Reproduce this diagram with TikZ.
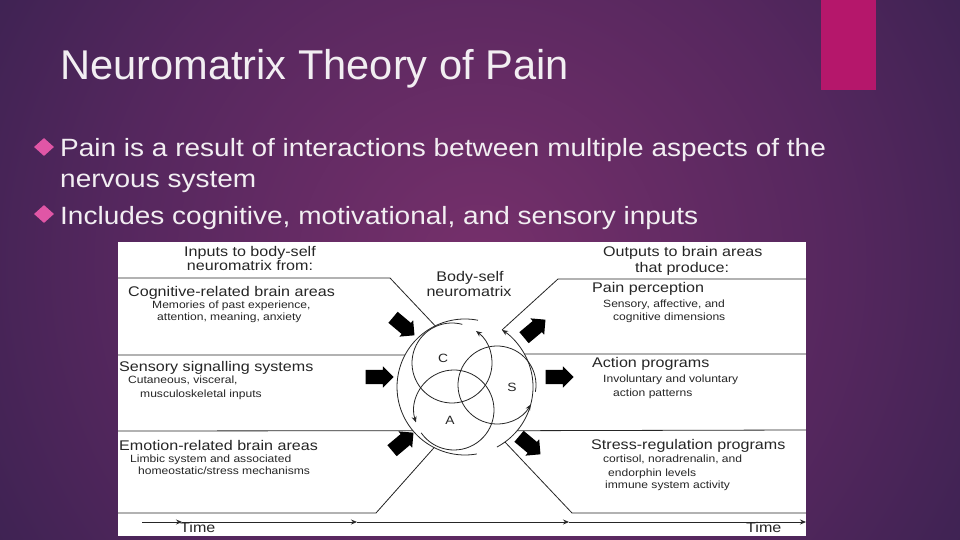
\documentclass[tikz,border=0pt]{standalone}
\usepackage{fontspec}
\setmainfont{Liberation Sans}
\newfontfamily\slidefont{Liberation Sans}[FakeStretch=1.12]
\newfontfamily\figfont{Liberation Sans}[FakeStretch=1.15]
\usepackage{tikz}
\usetikzlibrary{arrows.meta,positioning,shapes.geometric,shapes.arrows}
\definecolor{bgin}{HTML}{76306B}
\definecolor{bgmid}{HTML}{55275E}
\definecolor{bgout}{HTML}{221D45}
\definecolor{barpink}{HTML}{B5176B}
\definecolor{dotpink}{HTML}{E056A6}
\definecolor{paleink}{HTML}{F2EEF2}
\definecolor{figink}{HTML}{262626}
\pgfdeclareradialshading{slideglow}{\pgfpoint{0bp}{0bp}}{color(0bp)=(bgin); color(14bp)=(bgmid); color(31bp)=(bgout); color(50bp)=(bgout)}

\begin{document}
\begin{tikzpicture}[x=1pt,y=1pt,
  hd/.style={font=\figfont\fontsize{14}{16}\selectfont,text=figink,inner sep=0pt,anchor=base west},
  subtxt/.style={font=\figfont\fontsize{10.5}{12}\selectfont,text=figink,inner sep=0pt,anchor=base west},
  bul/.style={font=\slidefont\fontsize{25}{30}\selectfont,text=paleink,inner sep=0pt,anchor=base west},
  bdot/.style={diamond,fill=dotpink,inner sep=0pt,minimum width=20pt,minimum height=18pt},
  ln/.style={draw=figink,line width=0.8pt},
  arr/.style={ln,-{Stealth[length=6pt,width=5pt]}},
  blk/.style={single arrow,fill=black,inner sep=7pt,minimum height=28pt,single arrow head extend=3.5pt},
  cir/.style={font=\figfont\fontsize{12}{14}\selectfont,text=figink,inner sep=0pt}
]
\useasboundingbox (0,0) rectangle (960,540);
% slide background
\begin{scope}
  \clip (0,0) rectangle (960,540);
  \shade[shading=slideglow] (480,275) circle (650);
\end{scope}
\fill[barpink] (821,450) rectangle (876,540);

% title and bullets
\node[font=\fontsize{41.6}{50}\selectfont,text=paleink,inner sep=0pt,anchor=base west] (title) at (60,460) {Neuromatrix Theory of Pain};
\node[bdot] (b1) at (44,393) {};
\node[bul] (p1) at (60,383) {Pain is a result of interactions between multiple aspects of the};
\node[bul] (p1b) at (60,352) {nervous system};
\node[bdot] (b2) at (44,326) {};
\node[bul] (p2) at (60,315) {Includes cognitive, motivational, and sensory inputs};

% figure panel
\fill[white] (118,3.5) rectangle (806,298);
\node[circle,minimum size=136pt,inner sep=0pt,outer sep=0pt] (nm) at (465,153) {};
\coordinate (cc) at (452,177);
\coordinate (ca) at (454,130);
\coordinate (cs) at (497,155);

% band lines
\coordinate (l1) at (118,262); \coordinate (l1k) at (390,262);
\coordinate (r1) at (806,261); \coordinate (r1k) at (558,261);
\coordinate (l2) at (118,185); \coordinate (r2) at (806,186);
\coordinate (l3) at (118,109); \coordinate (r3) at (806,110);
\coordinate (l4) at (118,27);  \coordinate (l4k) at (376,27);
\coordinate (r4) at (806,27);  \coordinate (r4k) at (572,27);
\draw[ln] (l1) -- (l1k) -- (nm.116);
\draw[ln] (r1) -- (r1k) -- (nm.57);
\draw[ln] (l2) -- (nm.152);
\draw[ln] (nm.29) -- (r2);
\draw[ln] (l3) -- (nm.220);
\draw[ln] (nm.-40) -- (r3);
\draw[ln] (l4) -- (l4k) -- (nm.243);
\draw[ln] (r4) -- (r4k) -- (nm.-54);

% neuromatrix loops
\draw[ln] (nm.79) arc[start angle=79,end angle=280,radius=68];
\draw[arr] (nm.-62) arc[start angle=-62,end angle=57,radius=68];
\draw[arr] ([shift={(75:40)}]cc) arc[start angle=75,end angle=413,radius=40];
\draw[arr] ([shift={(-145:40)}]ca) arc[start angle=-145,end angle=198,radius=40];
\draw[arr] ([shift={(-10:39)}]cs) arc[start angle=-10,end angle=330,radius=39];
\node[cir] (lc) at (443,182) {C};
\node[cir] (ls) at (512,153) {S};
\node[cir] (la) at (450,120) {A};

% block arrows in and out
\node[blk,rotate=-40] (inTL) at (401,216) {};
\node[blk] (inML) at (376,163) {};
\node[blk,rotate=40] (inBL) at (400,96) {};
\node[blk,rotate=40] (outTR) at (532,209) {};
\node[blk] (outMR) at (556,163) {};
\node[blk,rotate=-40] (outBR) at (527,97) {};

% time axis
\coordinate (t0) at (142,18);
\coordinate (t1) at (182,18);
\coordinate (t2) at (357,18);
\coordinate (t3) at (569,18);
\coordinate (t4) at (806,18);
\draw[arr] (t0) -- (t1);
\draw[arr] (t1) -- (t2);
\draw[arr] (t2) -- (t3);
\draw[arr] (t3) -- (t4);
\node[hd] (time1) at (180,7) {Time};
\node[hd] (time2) at (746,7) {Time};

% inputs
\node[hd,anchor=base] (inhd) at (250,283) {Inputs to body-self};
\node[hd,anchor=base] (inhd2) at (250,269) {neuromatrix from:};
\node[hd] (cog) at (128,243) {Cognitive-related brain areas};
\node[subtxt] (cog1) at (152,231) {Memories of past experience,};
\node[subtxt] (cog2) at (157,219) {attention, meaning, anxiety};
\node[hd] (sen) at (119,168) {Sensory signalling systems};
\node[subtxt] (sen1) at (128,156) {Cutaneous, visceral,};
\node[subtxt] (sen2) at (140,142) {musculoskeletal inputs};
\node[hd] (emo) at (119,89) {Emotion-related brain areas};
\node[subtxt] (emo1) at (130,77) {Limbic system and associated};
\node[subtxt] (emo2) at (138,65) {homeostatic/stress mechanisms};

% centre
\node[hd,anchor=base] (bs) at (470,258) {Body-self};
\node[hd,anchor=base] (bs2) at (469,243) {neuromatrix};

% outputs
\node[hd] (outhd) at (603,283) {Outputs to brain areas};
\node[hd] (outhd2) at (635,267) {that produce:};
\node[hd] (pp) at (592,247) {Pain perception};
\node[subtxt] (pp1) at (603,232) {Sensory, affective, and};
\node[subtxt] (pp2) at (613,219) {cognitive dimensions};
\node[hd] (ap) at (592,172) {Action programs};
\node[subtxt] (ap1) at (603,157) {Involuntary and voluntary};
\node[subtxt] (ap2) at (613,143) {action patterns};
\node[hd] (sr) at (591,90) {Stress-regulation programs};
\node[subtxt] (sr1) at (603,77) {cortisol, noradrenalin, and};
\node[subtxt] (sr2) at (608,63) {endorphin levels};
\node[subtxt] (sr3) at (605,51) {immune system activity};
\end{tikzpicture}
\end{document}
